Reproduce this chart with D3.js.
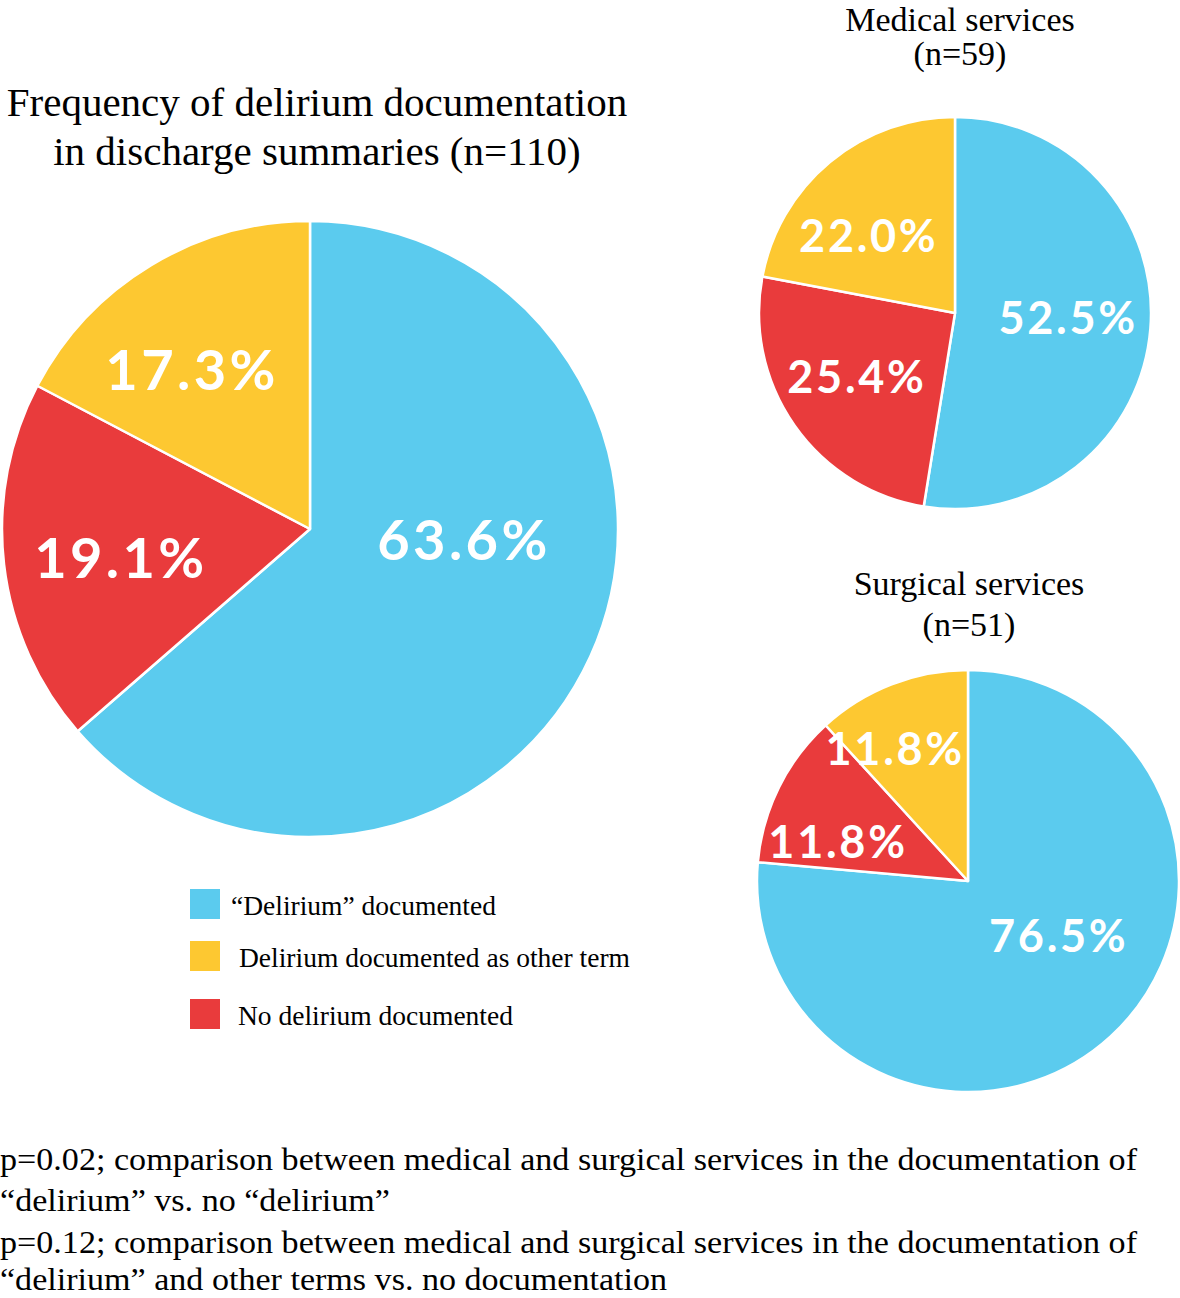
<!DOCTYPE html>
<html>
<head>
<meta charset="utf-8">
<script src="https://cdn.jsdelivr.net/npm/d3@7"></script>
<style>
  html, body { margin: 0; padding: 0; background: #fff; }
  svg { display: block; }
</style>
</head>
<body>
<svg id="chart" width="1180" height="1298"></svg>
<script>
// ---- data ----
const categories = ["\u201cDelirium\u201d documented", "No delirium documented", "Delirium documented as other term"];
const legendOrder = ["\u201cDelirium\u201d documented", "Delirium documented as other term", "No delirium documented"];
const overallValues  = [63.6, 19.1, 17.3];
const medicalValues  = [52.5, 25.4, 22.0];
const surgicalValues = [76.5, 11.8, 11.8];
const pieTitles = {
  overall: ["Frequency of delirium documentation", "in discharge summaries (n=110)"],
  medical: ["Medical services", "(n=59)"],
  surgical: ["Surgical services", "(n=51)"]
};
const footnotes = [
  "p=0.02; comparison between medical and surgical services in the documentation of",
  "\u201cdelirium\u201d vs. no \u201cdelirium\u201d",
  "p=0.12; comparison between medical and surgical services in the documentation of",
  "\u201cdelirium\u201d and other terms vs. no documentation"
];

// ---- style / layout ----
const colors = d3.scaleOrdinal()
  .domain(categories)
  .range(["#5bcbee", "#e93b3c", "#fdc831"]);

const svg = d3.select("#chart");
const serif = "'Liberation Serif', 'Times New Roman', serif";
const sans = "Lato, 'Open Sans', sans-serif";

// label offsets as fractions of radius (dx, dy) per slice
const pies = [
  { key: "overall",  values: overallValues,  cx: 310, cy: 529, r: 308, fs: 56,
    lab: [[0.50, 0.03], [-0.614, 0.09], [-0.383, -0.52]] },
  { key: "medical",  values: medicalValues,  cx: 955, cy: 313, r: 196, fs: 45,
    lab: [[0.577, 0.02], [-0.50, 0.32], [-0.44, -0.40]] },
  { key: "surgical", values: surgicalValues, cx: 968, cy: 881, r: 211, fs: 45,
    lab: [[0.43, 0.255], [-0.616, -0.19], [-0.345, -0.63]] }
];

const pie = d3.pie().sort(null).value(d => d.v);

pies.forEach(p => {
  const data = p.values.map((v, i) => ({ cat: categories[i], v }));
  const arc = d3.arc().innerRadius(0).outerRadius(p.r);
  const g = svg.append("g").attr("transform", `translate(${p.cx},${p.cy})`);
  const arcs = pie(data);
  g.selectAll("path.slice").data(arcs).join("path")
    .attr("class", "slice")
    .attr("d", arc)
    .attr("fill", d => colors(d.data.cat))
    .attr("stroke", "#fff")
    .attr("stroke-width", 2.5)
    .attr("stroke-linejoin", "round");
  g.selectAll("text.pct").data(arcs).join("text")
    .attr("class", "pct")
    .attr("x", (d, i) => p.lab[i][0] * p.r)
    .attr("y", (d, i) => p.lab[i][1] * p.r)
    .attr("text-anchor", "middle")
    .attr("dominant-baseline", "central")
    .attr("font-family", sans)
    .attr("font-weight", 700)
    .attr("font-size", p.fs)
    .attr("letter-spacing", p.fs * 0.06)
    .attr("fill", "#fff")
    .text(d => d.data.v.toFixed(1) + "%");
});

// titles
function title(lines, x, y0, size, lh) {
  svg.append("text")
    .attr("x", x).attr("y", y0)
    .attr("text-anchor", "middle")
    .attr("font-family", serif)
    .attr("font-size", size)
    .attr("fill", "#000")
    .selectAll("tspan").data(lines).join("tspan")
    .attr("x", x)
    .attr("dy", (d, i) => i === 0 ? 0 : lh)
    .text(d => d);
}
title(pieTitles.overall, 317, 116, 41, 49);
title(pieTitles.medical, 960, 31, 34, 34);
title(pieTitles.surgical, 969, 595, 34, 41);

// legend
const legY = [889, 941, 999];
const legTx = [231, 239, 238];
const legend = svg.append("g");
legendOrder.forEach((c, i) => {
  legend.append("rect")
    .attr("x", 190).attr("y", legY[i])
    .attr("width", 30).attr("height", 30)
    .attr("fill", colors(c));
  legend.append("text")
    .attr("x", legTx[i]).attr("y", legY[i] + 26)
    .attr("font-family", serif)
    .attr("font-size", 27.5)
    .attr("fill", "#000")
    .text(c);
});

// footnotes
const fnY = [1170, 1211, 1253, 1290];
const fnW = [1137, 390, 1137, 667];
footnotes.forEach((t, i) => {
  svg.append("text")
    .attr("x", 0).attr("y", fnY[i])
    .attr("font-family", serif)
    .attr("font-size", 31)
    .attr("textLength", fnW[i])
    .attr("lengthAdjust", "spacingAndGlyphs")
    .attr("fill", "#000")
    .text(t);
});
</script>
</body>
</html>
